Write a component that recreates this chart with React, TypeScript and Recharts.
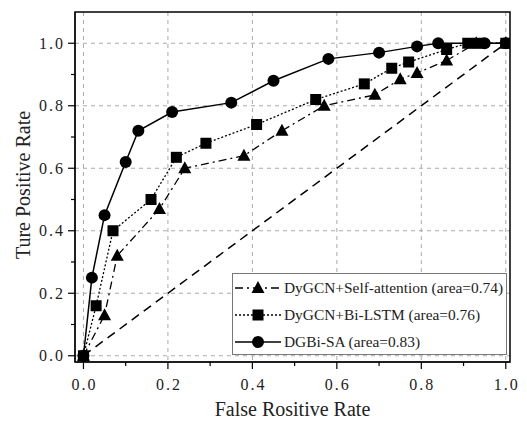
import React from 'react';
import { LineChart, Line, XAxis, YAxis, CartesianGrid, ReferenceArea } from 'recharts';

// ROC curves
const chanceFpr = [0, 1];
const chanceTpr = [0, 1];

const selfAttnFpr = [0, 0.05, 0.08, 0.18, 0.24, 0.38, 0.47, 0.57, 0.69, 0.75, 0.79, 0.86, 0.93, 1.0];
const selfAttnTpr = [0, 0.13, 0.32, 0.47, 0.6, 0.64, 0.72, 0.8, 0.835, 0.885, 0.905, 0.945, 1.0, 1.0];

const biLstmFpr = [0, 0.03, 0.07, 0.16, 0.22, 0.29, 0.41, 0.55, 0.665, 0.73, 0.77, 0.86, 0.91, 0.935, 1.0];
const biLstmTpr = [0, 0.16, 0.4, 0.5, 0.635, 0.68, 0.74, 0.82, 0.87, 0.92, 0.94, 0.98, 1.0, 1.0, 1.0];

const dgbiFpr = [0, 0.02, 0.05, 0.1, 0.13, 0.21, 0.35, 0.45, 0.58, 0.7, 0.79, 0.84, 0.95, 1.0];
const dgbiTpr = [0, 0.25, 0.45, 0.62, 0.72, 0.78, 0.81, 0.88, 0.95, 0.97, 0.99, 1.0, 1.0, 1.0];

const allTicks = [0, 0.1, 0.2, 0.3, 0.4, 0.5, 0.6, 0.7, 0.8, 0.9, 1.0];
const majorTicks = [0, 0.2, 0.4, 0.6, 0.8, 1.0];

const legendLabels = [
  'DyGCN+Self-attention (area=0.74)',
  'DyGCN+Bi-LSTM (area=0.76)',
  'DGBi-SA (area=0.83)',
];

const toPoints = (xs: number[], ys: number[]) => xs.map((x, i) => ({ x, y: ys[i] }));

const chanceData = toPoints(chanceFpr, chanceTpr);
const selfAttnData = toPoints(selfAttnFpr, selfAttnTpr);
const biLstmData = toPoints(biLstmFpr, biLstmTpr);
const dgbiData = toPoints(dgbiFpr, dgbiTpr);

const FONT = 'Liberation Serif, Times New Roman, serif';
const isMajor = (v: number) => Math.round(v * 10) % 2 === 0;

const XTick = (props: any) => {
  const { x, y, payload } = props;
  const major = isMajor(payload.value);
  return (
    <g>
      <line x1={x} x2={x} y1={y} y2={y + (major ? 7 : 4)} stroke="#000" strokeWidth={1.2} />
      {major && (
        <text x={x + 1} y={y + 28} textAnchor="middle" fontSize={16} fontFamily={FONT} fill="#222" letterSpacing={2}>
          {payload.value.toFixed(1)}
        </text>
      )}
    </g>
  );
};

const YTick = (props: any) => {
  const { x, y, payload } = props;
  const major = isMajor(payload.value);
  return (
    <g>
      <line x1={x} x2={x - (major ? 7 : 4)} y1={y} y2={y} stroke="#000" strokeWidth={1.2} />
      {major && (
        <text x={x - 10} y={y + 5.5} textAnchor="end" fontSize={16} fontFamily={FONT} fill="#222" letterSpacing={2}>
          {payload.value.toFixed(1)}
        </text>
      )}
    </g>
  );
};

const CircleDot = (p: any) => <circle key={`c-${p.index}`} cx={p.cx} cy={p.cy} r={6} fill="#000" />;
const SquareDot = (p: any) => <rect key={`s-${p.index}`} x={p.cx - 5.5} y={p.cy - 5.5} width={11} height={11} fill="#000" />;
const TriangleDot = (p: any) => (
  <polygon key={`t-${p.index}`} points={`${p.cx},${p.cy - 7} ${p.cx - 6.5},${p.cy + 5} ${p.cx + 6.5},${p.cy + 5}`} fill="#000" />
);

const legendIcons = [
  { dash: '8 4 2 4', marker: (cx: number, cy: number) => <polygon points={`${cx},${cy - 7} ${cx - 6.5},${cy + 5} ${cx + 6.5},${cy + 5}`} fill="#000" /> },
  { dash: '2 2', marker: (cx: number, cy: number) => <rect x={cx - 5.5} y={cy - 5.5} width={11} height={11} fill="#000" /> },
  { dash: undefined, marker: (cx: number, cy: number) => <circle cx={cx} cy={cy} r={6} fill="#000" /> },
];

export default function App() {
  return (
    <div style={{ position: 'absolute', left: 0, top: 0, width: 527, height: 421, background: '#fff', fontFamily: FONT }}>
      <LineChart width={527} height={421} margin={{ top: 12, right: 17, left: 0, bottom: 0 }}>
        <CartesianGrid
          stroke="#aaa"
          strokeDasharray="4 4"
          horizontalValues={majorTicks}
          verticalValues={majorTicks}
        />
        <XAxis
          type="number"
          dataKey="x"
          domain={[-0.02, 1.01]}
          allowDataOverflow
          ticks={allTicks}
          interval={0}
          tickSize={0}
          tickMargin={0}
          tickLine={false}
          tick={<XTick />}
          height={59}
          stroke="#000"
          label={{
            value: 'False Rositive Rate',
            content: (p: any) => (
              <text x={p.viewBox.x + p.viewBox.width / 2} y={416} textAnchor="middle" fontSize={20} fontFamily={FONT} fill="#222">
                False Rositive Rate
              </text>
            ),
          }}
        />
        <YAxis
          type="number"
          domain={[-0.02, 1.1]}
          allowDataOverflow
          ticks={allTicks}
          interval={0}
          tickSize={0}
          tickMargin={0}
          tickLine={false}
          tick={<YTick />}
          width={75}
          stroke="#000"
          label={{
            value: 'Ture Positive Rate',
            content: (p: any) => {
              const cy = p.viewBox.y + p.viewBox.height / 2 - 2;
              return (
                <text x={30} y={cy} transform={`rotate(-90 30 ${cy})`} textAnchor="middle" fontSize={20} fontFamily={FONT} fill="#222">
                  Ture Positive Rate
                </text>
              );
            },
          }}
        />
        <ReferenceArea x1={-0.02} x2={1.01} y1={-0.02} y2={1.1} fill="none" stroke="#000" strokeWidth={1.5} ifOverflow="visible" />
        <Line data={chanceData} dataKey="y" stroke="#000" strokeWidth={1.5} strokeDasharray="9 6" dot={false} isAnimationActive={false} />
        <Line data={selfAttnData} dataKey="y" stroke="#000" strokeWidth={1.3} strokeDasharray="8 4 2 4" dot={TriangleDot} isAnimationActive={false} />
        <Line data={biLstmData} dataKey="y" stroke="#000" strokeWidth={1.3} strokeDasharray="2 2" dot={SquareDot} isAnimationActive={false} />
        <Line data={dgbiData} dataKey="y" stroke="#000" strokeWidth={1.5} dot={CircleDot} isAnimationActive={false} />
      </LineChart>

      {/* legend box, lower right of the plot */}
      <div
        style={{
          position: 'absolute',
          left: 232,
          top: 273,
          width: 275,
          height: 82,
          border: '1px solid #777',
          background: '#fff',
          boxSizing: 'border-box',
        }}
      >
        {legendLabels.map((label, i) => (
          <div key={label} style={{ display: 'flex', alignItems: 'center', height: 27 }}>
            <svg width={48} height={16} style={{ marginLeft: 2, flex: 'none' }}>
              <line x1={0} x2={46} y1={8} y2={8} stroke="#000" strokeWidth={1.4} strokeDasharray={legendIcons[i].dash} />
              {legendIcons[i].marker(23, 8)}
            </svg>
            <span style={{ fontSize: 15.4, color: '#222', marginLeft: 1, whiteSpace: 'nowrap' }}>{label}</span>
          </div>
        ))}
      </div>
    </div>
  );
}
